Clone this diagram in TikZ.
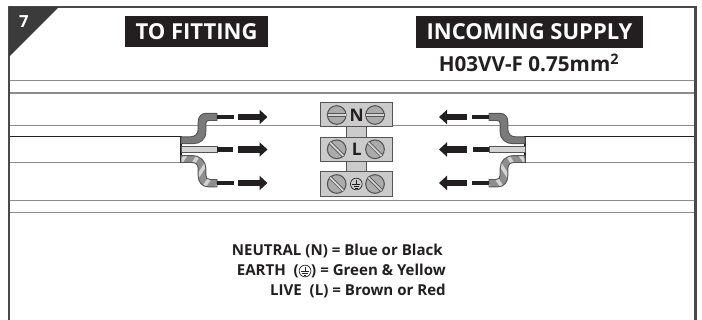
\documentclass[tikz,border=0pt]{standalone}
\usepackage{fontspec}
\setmainfont{Open Sans}
\usetikzlibrary{arrows.meta,calc}
\definecolor{ink}{HTML}{231F20}
\definecolor{framec}{HTML}{4A4A4A}
\definecolor{rulec}{HTML}{8C8C8C}
\definecolor{wiredark}{HTML}{7A7A7A}
\definecolor{wirelight}{HTML}{D4D4D4}
\definecolor{wirestripe}{HTML}{8E8E8E}
\definecolor{edgec}{HTML}{555555}
\definecolor{blockc}{HTML}{CBCBCB}
\definecolor{screwc}{HTML}{ABABAB}
\tikzset{
  rulel/.style={draw=rulec,line width=1pt},
  wireout/.style={draw=edgec,line width=.7pt},
  cond/.style={draw=ink,line width=3.7pt},
  blockarrow/.style={draw=ink,line width=4.8pt,-{Triangle[length=6pt,width=10.5pt]},shorten >=0pt},
  termblock/.style={draw=edgec,fill=blockc,line width=.8pt,minimum width=54.5pt,minimum height=18.5pt,inner sep=0pt},
  bridge/.style={draw=edgec,fill=blockc,line width=.8pt},
  screw/.style={draw=edgec,fill=screwc,line width=.8pt,circle,minimum size=14pt,inner sep=0pt},
  slotdark/.style={draw=edgec,line width=2.6pt},
  slotlight/.style={draw=wirelight,line width=1.3pt},
  banner/.style={fill=ink,text=white,font=\fontsize{16.5}{18}\selectfont\bfseries,inner sep=0pt,anchor=center},
  legend/.style={font=\fontsize{11.3}{13}\selectfont\bfseries,text=ink,anchor=base east,inner sep=0pt},
}
\newcommand{\earthmark}{\tikz[baseline=-3pt,x=1pt,y=1pt,line width=.5pt,draw=ink]{%
  \draw (0,0) circle (4.4);\draw (0,3)--(0,-.6);\draw (-3,-.6)--(3,-.6);\draw (-2,-1.8)--(2,-1.8);\draw (-1,-3)--(1,-3);}}
\newcommand{\slotflat}[1]{\draw[slotdark] ($(#1)+(-9.5,0)$)--($(#1)+(9.5,0)$);\draw[slotlight] ($(#1)+(-9,0)$)--($(#1)+(9,0)$);}
\newcommand{\slotdiag}[1]{\draw[slotdark] ($(#1)+(-7,-7)$)--($(#1)+(7,7)$);\draw[slotlight] ($(#1)+(-6.6,-6.6)$)--($(#1)+(6.6,6.6)$);}
% one side of the wiring, drawn in left-hand coordinates
\newcommand{\wireside}{%
  % cable sheath
  \fill[white] (10,136.7) rectangle (181,162.7);
  \draw[rulec,line width=1pt] (10,162.7)--(181,162.7);
  \draw[ink,line width=.9pt] (10,136.7)--(181,136.7)--(181,162.7);
  % top wire
  \path[wireout,fill=wiredark] (181,136.8)--(190.5,136.8)
     .. controls (195,136.8) and (198.2,134) .. (198.2,129)
     -- (198.2,122) .. controls (198.2,116.5) and (201.5,113.3) .. (206,113.3) -- (217,113.3)
     -- (217,120.5) -- (209,120.5) .. controls (206.5,120.5) and (205.8,121.5) .. (205.8,124)
     -- (205.8,132) .. controls (205.8,139.5) and (200,143.7) .. (193,143.7) -- (181,143.7) -- cycle;
  % middle wire
  \path[wireout,fill=wirelight] (181,146)--(217,146)--(217,152.8)--(181,152.8)--cycle;
  % bottom wire
  \begin{scope}
    \path[clip] (181,155.6)--(192,155.6) .. controls (200,155.6) and (205.8,161) .. (205.8,168)
     -- (205.8,175) .. controls (205.8,178) and (207,179.5) .. (210,179.5) -- (217,179.5)
     -- (217,186.8) -- (208,186.8) .. controls (202,186.8) and (198.2,182) .. (198.2,176)
     -- (198.2,169) .. controls (198.2,165) and (196,162.5) .. (192,162.5) -- (181,162.5) -- cycle;
    \fill[wirestripe] (175,150) rectangle (220,190);
    \foreach \s in {150,163,...,255}{\draw[wirelight,line width=2.6pt] (\s,190)--(\s+26,150);}
  \end{scope}
  \path[wireout] (181,155.6)--(192,155.6) .. controls (200,155.6) and (205.8,161) .. (205.8,168)
     -- (205.8,175) .. controls (205.8,178) and (207,179.5) .. (210,179.5) -- (217,179.5)
     -- (217,186.8) -- (208,186.8) .. controls (202,186.8) and (198.2,182) .. (198.2,176)
     -- (198.2,169) .. controls (198.2,165) and (196,162.5) .. (192,162.5) -- (181,162.5) -- cycle;
  % conductors
  \draw[cond] (217,117)--(234,117);
  \draw[cond] (217,149.5)--(233,149.5);
  \draw[cond] (217,183)--(234,183);
}
\begin{document}
\begin{tikzpicture}[x=.75pt,y=-.75pt]
\useasboundingbox (0,0) rectangle (702,320);
\fill[white] (0,0) rectangle (702,320);
% horizontal rules
\foreach \yy in {80.7,93,125.8,200.7,212.5}{\draw[rulel] (9,\yy)--(695,\yy);}
% wiring, left and right
\wireside
\begin{scope}[xshift=529.5pt,x=-.75pt]
\wireside
\end{scope}
% frame
\draw[framec,line width=1.8pt] (9,320)--(9,7)--(695.5,7)--(695.5,320);
\fill[framec!80!black] (9,7)--(59,7)--(9,57)--cycle;
\node[text=white,font=\fontsize{12.5}{14}\selectfont\bfseries,inner sep=0pt] (stepno) at (24,22) {7};
% banners
\node[banner,minimum width=107pt,minimum height=23pt] (tofit) at (196.5,31.2) {\raisebox{-1.2pt}{TO FITTING}};
\node[banner,minimum width=170pt,minimum height=24pt] (incoming) at (529.5,32) {\raisebox{-1.2pt}{INCOMING SUPPLY}};
\node[font=\fontsize{15.5}{17}\selectfont\bfseries,text=ink,inner sep=0pt,anchor=base] (cablespec) at (529,71.5) {H03VV-F 0.75mm\textsuperscript{2}};
% arrows
\foreach \yy [count=\i] in {117,149.5,183}{
  \coordinate (la\i) at (238,\yy); \coordinate (lb\i) at (267.5,\yy);
  \coordinate (ra\i) at (467,\yy); \coordinate (rb\i) at (439,\yy);
  \draw[blockarrow] (la\i)--(lb\i);
  \draw[blockarrow] (ra\i)--(rb\i);
}
% terminal block
\node[bridge,minimum width=14.5pt,minimum height=55pt,inner sep=0pt] (bridgebar) at (356.5,149) {};
\node[termblock] (tn) at (356.5,114.5) {};
\node[termblock] (tl) at (356.5,149.5) {};
\node[termblock] (te) at (356.5,184.2) {};
\foreach \nm/\yy in {n/115,l/149.3,e/184}{
  \node[screw] (s\nm a) at (336.7,\yy) {};
  \node[screw] (s\nm b) at (375,\yy) {};
}
\slotflat{sna}\slotflat{snb}
\slotdiag{sla}\slotdiag{slb}
\slotdiag{sea}\slotdiag{seb}
\node[font=\fontsize{13}{15}\selectfont\bfseries,text=ink,inner sep=0pt] (ln) at (356.7,115) {N};
\node[font=\fontsize{13}{15}\selectfont\bfseries,text=ink,inner sep=0pt] (ll) at (356.7,149.5) {L};
\node[inner sep=0pt] (le) at (356.3,184) {\earthmark};
% legend
\node[legend] (leg1) at (443,255) {NEUTRAL (N) = Blue or Black};
\node[legend] (leg2) at (446,275) {EARTH\ \ (\earthmark) = Green \& Yellow};
\node[legend] (leg3) at (446,295) {LIVE\ \ (L) = Brown or Red};
\end{tikzpicture}
\end{document}
